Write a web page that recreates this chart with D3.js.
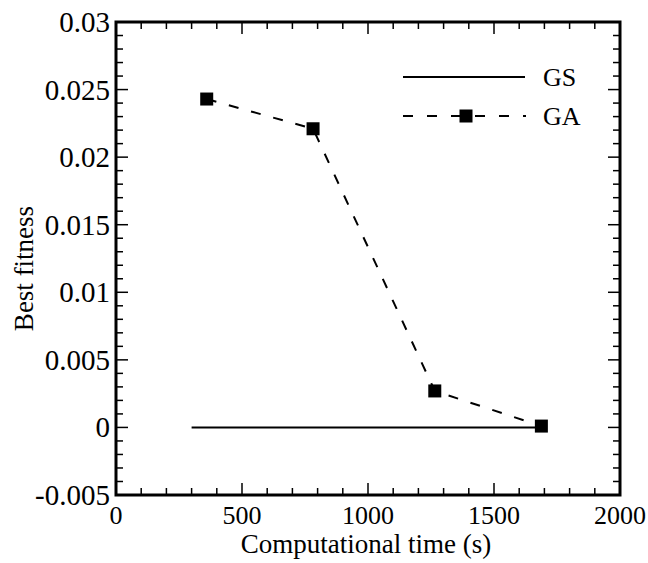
<!DOCTYPE html>
<html><head><meta charset="utf-8">
<script src="https://cdn.jsdelivr.net/npm/d3@7"></script>
<style>body{margin:0;background:#fff}svg{display:block}</style>
</head><body><svg id="c" width="648" height="563" font-family="'Liberation Serif', 'Times New Roman', Times, serif"></svg>
<script>
const gaTime = [360, 782, 1265, 1688];
const gaFitness = [0.0243, 0.0221, 0.0027, 0.0001];
const gsTime = [300, 1688];
const gsFitness = [0, 0];
const xTicks = [0, 500, 1000, 1500, 2000];
const yTicks = [-0.005, 0, 0.005, 0.01, 0.015, 0.02, 0.025, 0.03];
const yTickLabels = ["-0.005", "0", "0.005", "0.01", "0.015", "0.02", "0.025", "0.03"];
const seriesNames = ["GS", "GA"];

const FONT = "'Liberation Serif', 'Times New Roman', Times, serif";
const svg = d3.select("#c");
const L = 116, R = 620, T = 22, B = 495;
const x = d3.scaleLinear().domain([0, 2000]).range([L, R]);
const y = d3.scaleLinear().domain([-0.005, 0.03]).range([B, T]);

const xMinor = d3.range(0, 2001, 100);
const yMinor = d3.range(-5, 31, 1).map(v => v / 1000);

const tickG = svg.append("g").attr("stroke", "#000").attr("stroke-width", 1.5);
xMinor.forEach(v => {
  const major = Math.abs(v % 500) < 1e-9;
  const len = major ? 12 : 7;
  tickG.append("line").attr("x1", x(v)).attr("x2", x(v)).attr("y1", B).attr("y2", B - len);
  tickG.append("line").attr("x1", x(v)).attr("x2", x(v)).attr("y1", T).attr("y2", T + len);
});
yMinor.forEach(v => {
  const major = Math.abs(Math.round(v * 1000) % 5) === 0;
  const len = major ? 12 : 7;
  tickG.append("line").attr("y1", y(v)).attr("y2", y(v)).attr("x1", L).attr("x2", L + len);
  tickG.append("line").attr("y1", y(v)).attr("y2", y(v)).attr("x1", R).attr("x2", R - len);
});

svg.append("rect").attr("x", L).attr("y", T).attr("width", R - L).attr("height", B - T)
  .attr("fill", "none").attr("stroke", "#000").attr("stroke-width", 3);

function txt(g, s) { return g.append("text").attr("font-family", FONT).attr("font-size", s || 24).attr("fill", "#000"); }

xTicks.forEach(d => txt(svg, 26).attr("x", x(d)).attr("y", 524).attr("text-anchor", "middle").text(d));
yTicks.forEach((d, i) => txt(svg, 29).attr("x", 110).attr("y", y(d) + 10).attr("text-anchor", "end").text(yTickLabels[i]));

txt(svg, 27).attr("x", (L + R) / 2 - 2).attr("y", 553).attr("text-anchor", "middle").text("Computational time (s)");
txt(svg, 27).attr("transform", `translate(33,${(T + B) / 2 + 10}) rotate(-90)`).attr("text-anchor", "middle").text("Best fitness");

const line = d3.line().x(d => x(d[0])).y(d => y(d[1]));

svg.append("path").datum(gsTime.map((t, i) => [t, gsFitness[i]]))
  .attr("d", line).attr("fill", "none").attr("stroke", "#000").attr("stroke-width", 2);
svg.append("path").datum(gaTime.map((t, i) => [t, gaFitness[i]]))
  .attr("d", line).attr("fill", "none").attr("stroke", "#000").attr("stroke-width", 2)
  .attr("stroke-dasharray", "10,13");
const ms = 13;
svg.append("g").selectAll("rect").data(gaTime.map((t, i) => [t, gaFitness[i]])).join("rect")
  .attr("x", d => x(d[0]) - ms / 2).attr("y", d => y(d[1]) - ms / 2)
  .attr("width", ms).attr("height", ms).attr("fill", "#000");

// legend
const lg = svg.append("g");
lg.append("line").attr("x1", 403).attr("x2", 525).attr("y1", 77).attr("y2", 77)
  .attr("stroke", "#000").attr("stroke-width", 2);
lg.append("line").attr("x1", 403).attr("x2", 526).attr("y1", 116).attr("y2", 116)
  .attr("stroke", "#000").attr("stroke-width", 2).attr("stroke-dasharray", "10,14");
lg.append("rect").attr("x", 466 - ms / 2).attr("y", 116 - ms / 2).attr("width", ms).attr("height", ms).attr("fill", "#000");
txt(lg, 26).attr("x", 543).attr("y", 86).text(seriesNames[0]);
txt(lg, 26).attr("x", 543).attr("y", 125).text(seriesNames[1]);
</script></body></html>
